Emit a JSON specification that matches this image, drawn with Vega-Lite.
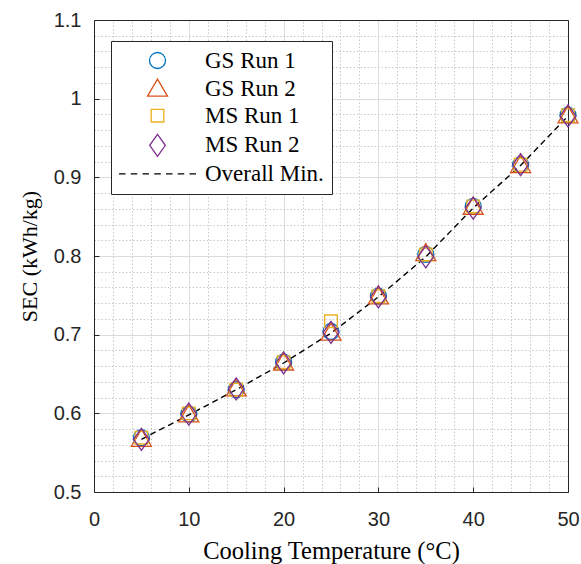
{
  "$schema": "https://vega.github.io/schema/vega-lite/v6.json",
  "width": 474,
  "height": 472,
  "autosize": {"type": "none"},
  "padding": {"left": 94, "top": 20, "right": 13, "bottom": 72},
  "background": "white",
  "config": {
    "view": {"stroke": null},
    "axis": {"labelFont": "Liberation Sans", "labelFontSize": 20, "labelColor": "#262626", "titleFont": "Liberation Serif", "titleFontSize": 23, "titleFontWeight": "normal", "titleColor": "#000000", "domainColor": "#262626", "domainWidth": 1, "tickColor": "#262626"},
    "legend": {"strokeWidth": 1}
  },
  "datasets": {
    "points": [
      {"temp": 5, "sec": 0.569, "series": "GS Run 1"},
      {"temp": 10, "sec": 0.599, "series": "GS Run 1"},
      {"temp": 15, "sec": 0.630, "series": "GS Run 1"},
      {"temp": 20, "sec": 0.665, "series": "GS Run 1"},
      {"temp": 25, "sec": 0.704, "series": "GS Run 1"},
      {"temp": 30, "sec": 0.749, "series": "GS Run 1"},
      {"temp": 35, "sec": 0.802, "series": "GS Run 1"},
      {"temp": 40, "sec": 0.863, "series": "GS Run 1"},
      {"temp": 45, "sec": 0.916, "series": "GS Run 1"},
      {"temp": 50, "sec": 0.979, "series": "GS Run 1"},
      {"temp": 5, "sec": 0.567, "series": "GS Run 2"},
      {"temp": 10, "sec": 0.598, "series": "GS Run 2"},
      {"temp": 15, "sec": 0.631, "series": "GS Run 2"},
      {"temp": 20, "sec": 0.664, "series": "GS Run 2"},
      {"temp": 25, "sec": 0.702, "series": "GS Run 2"},
      {"temp": 30, "sec": 0.748, "series": "GS Run 2"},
      {"temp": 35, "sec": 0.803, "series": "GS Run 2"},
      {"temp": 40, "sec": 0.862, "series": "GS Run 2"},
      {"temp": 45, "sec": 0.915, "series": "GS Run 2"},
      {"temp": 50, "sec": 0.978, "series": "GS Run 2"},
      {"temp": 5, "sec": 0.569, "series": "MS Run 1"},
      {"temp": 10, "sec": 0.600, "series": "MS Run 1"},
      {"temp": 15, "sec": 0.630, "series": "MS Run 1"},
      {"temp": 20, "sec": 0.665, "series": "MS Run 1"},
      {"temp": 25, "sec": 0.717, "series": "MS Run 1"},
      {"temp": 30, "sec": 0.749, "series": "MS Run 1"},
      {"temp": 35, "sec": 0.802, "series": "MS Run 1"},
      {"temp": 40, "sec": 0.863, "series": "MS Run 1"},
      {"temp": 45, "sec": 0.916, "series": "MS Run 1"},
      {"temp": 50, "sec": 0.979, "series": "MS Run 1"},
      {"temp": 5, "sec": 0.567, "series": "MS Run 2"},
      {"temp": 10, "sec": 0.599, "series": "MS Run 2"},
      {"temp": 15, "sec": 0.631, "series": "MS Run 2"},
      {"temp": 20, "sec": 0.664, "series": "MS Run 2"},
      {"temp": 25, "sec": 0.703, "series": "MS Run 2"},
      {"temp": 30, "sec": 0.748, "series": "MS Run 2"},
      {"temp": 35, "sec": 0.799, "series": "MS Run 2"},
      {"temp": 40, "sec": 0.861, "series": "MS Run 2"},
      {"temp": 45, "sec": 0.916, "series": "MS Run 2"},
      {"temp": 50, "sec": 0.978, "series": "MS Run 2"}
    ],
    "minline": [
      {"temp": 5, "sec": 0.567},
      {"temp": 10, "sec": 0.598},
      {"temp": 15, "sec": 0.630},
      {"temp": 20, "sec": 0.664},
      {"temp": 25, "sec": 0.702},
      {"temp": 30, "sec": 0.748},
      {"temp": 35, "sec": 0.799},
      {"temp": 40, "sec": 0.861},
      {"temp": 45, "sec": 0.915},
      {"temp": 50, "sec": 0.978}
    ]
  },
  "layer": [
    {
      "data": {"name": "minline"},
      "mark": {"type": "line", "color": "#000000", "strokeWidth": 1.4, "strokeDash": [6, 4], "interpolate": "linear"},
      "encoding": {
        "x": {"field": "temp", "type": "quantitative", "scale": {"domain": [0, 50], "nice": false},
          "axis": {"orient": "top", "values": [2, 4, 6, 8, 12, 14, 16, 18, 22, 24, 26, 28, 32, 34, 36, 38, 42, 44, 46, 48], "grid": true, "gridDash": [1.5, 2], "gridColor": "#bdbdbd", "gridWidth": 0.8, "labels": false, "ticks": false, "domain": true, "title": null}},
        "y": {"field": "sec", "type": "quantitative", "scale": {"domain": [0.5, 1.1], "nice": false, "zero": false},
          "axis": {"orient": "right", "values": [0.52, 0.54, 0.56, 0.58, 0.62, 0.64, 0.66, 0.68, 0.72, 0.74, 0.76, 0.78, 0.82, 0.84, 0.86, 0.88, 0.92, 0.94, 0.96, 0.98, 1.02, 1.04, 1.06, 1.08], "grid": true, "gridDash": [1.5, 2], "gridColor": "#bdbdbd", "gridWidth": 0.8, "labels": false, "ticks": false, "domain": true, "title": null}}
      }
    },
    {
      "data": {"name": "points"},
      "mark": {"type": "point", "filled": false, "strokeWidth": 1.3, "size": 400, "opacity": 1},
      "encoding": {
        "x": {"field": "temp", "type": "quantitative",
          "axis": {"orient": "bottom", "values": [0, 10, 20, 30, 40, 50], "format": "d", "grid": true, "gridColor": "#dcdcdc", "gridWidth": 1, "tickSize": -5, "labelPadding": 22, "labelFlush": false, "title": "Cooling Temperature (°C)", "titleFont": "Liberation Serif", "titleFontSize": 24.5, "titleColor": "#000000", "titleFontWeight": "normal", "titlePadding": 10}},
        "y": {"field": "sec", "type": "quantitative",
          "axis": {"orient": "left", "values": [0.5, 0.6, 0.7, 0.8, 0.9, 1.0, 1.1], "format": ".1~f", "grid": true, "gridColor": "#dcdcdc", "gridWidth": 1, "tickSize": -5, "labelPadding": 18, "labelFlush": false, "title": "SEC (kWh/kg)", "titleFont": "Liberation Serif", "titleFontSize": 22, "titleFontWeight": "normal", "titlePadding": 12}},
        "shape": {"field": "series", "type": "nominal",
          "scale": {"domain": ["GS Run 1", "GS Run 2", "MS Run 1", "MS Run 2", "Overall Min."],
            "range": ["M0.8,0A0.8,0.8,0,1,1,-0.8,0A0.8,0.8,0,1,1,0.8,0Z", "M0,-1L1,0.7L-1,0.7Z", "M-0.63,-0.63H0.63V0.63H-0.63Z", "M0,-1.1L0.78,0L0,1.1L-0.78,0Z", "M-3.85,0H-3.2M-2.675,0H-2.025M-1.5,0H-0.85M-0.325,0H0.325M0.85,0H1.5M2.025,0H2.675M3.2,0H3.85"]},
          "legend": {"title": null, "orient": "none", "legendX": 17, "legendY": 21, "padding": 8, "strokeColor": "#262626", "fillColor": "#ffffff", "symbolSize": 400, "symbolStrokeWidth": 1.3, "symbolOffset": 27, "labelOffset": 36, "labelFont": "Liberation Serif", "labelFontSize": 23, "labelColor": "#000000", "rowPadding": 2.6}},
        "color": {"field": "series", "type": "nominal",
          "scale": {"domain": ["GS Run 1", "GS Run 2", "MS Run 1", "MS Run 2", "Overall Min."],
            "range": ["#0072BD", "#D95319", "#EDB120", "#7E2F8E", "#000000"]},
          "legend": {"title": null, "orient": "none", "legendX": 17, "legendY": 21, "padding": 8, "strokeColor": "#262626", "fillColor": "#ffffff", "symbolSize": 400, "symbolStrokeWidth": 1.3, "symbolOffset": 27, "labelOffset": 36, "labelFont": "Liberation Serif", "labelFontSize": 23, "labelColor": "#000000", "rowPadding": 2.6}}
      }
    }
  ],
  "resolve": {"axis": {"x": "independent", "y": "independent"}}
}
